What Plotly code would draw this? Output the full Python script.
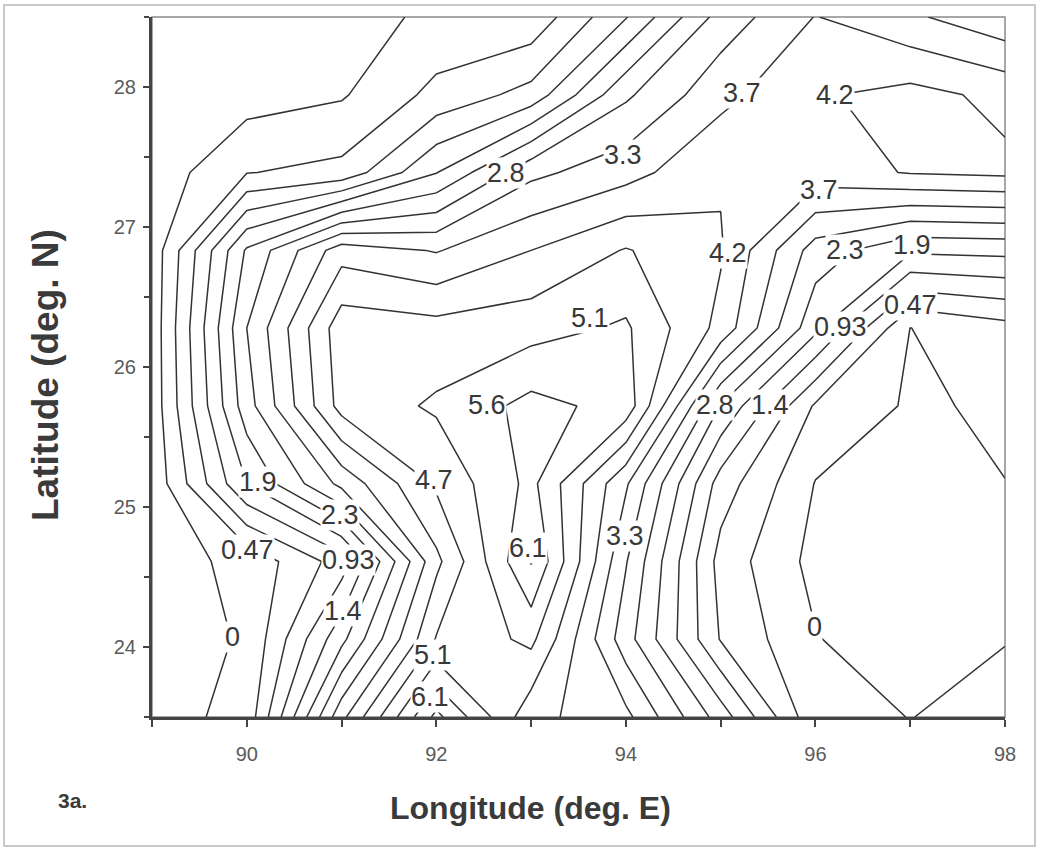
import plotly.graph_objects as go

# grid (longitude in deg E, latitude in deg N)
lon = [89, 90, 91, 92, 93, 94, 95, 96, 97, 98]
lat = [23.50, 24.056, 24.611, 25.167, 25.722, 26.278, 26.833, 27.389, 27.944, 28.50]

# values per latitude row (south -> north)
row_23_50 = [-0.20, 0.15, 3.60, 6.20, 4.35, 3.86, 2.12, 0.10, -0.005, 0.10]
row_24_06 = [-0.20, 0.04, 2.20, 4.70, 5.25, 3.00, 0.90, 0.024, -0.30, -0.01]
row_24_61 = [-0.20, 0.12, 1.15, 4.08, 6.10, 3.30, 0.75, -0.15, -0.20, -0.01]
row_25_17 = [-0.35, 1.87, 3.40, 4.75, 5.73, 3.80, 1.18, -0.02, -0.10, -0.005]
row_25_72 = [-0.30, 2.60, 4.85, 5.20, 5.75, 5.44, 2.30, 0.40, -0.06, 0.067]
row_26_28 = [-0.30, 2.80, 4.95, 4.84, 4.95, 5.20, 4.06, 2.00, -0.005, 0.30]
row_26_83 = [-0.30, 2.40, 4.00, 3.70, 4.20, 4.70, 4.25, 2.58, 1.95, 2.00]
row_27_39 = [-0.30, 0.45, 0.60, 1.85, 3.15, 3.55, 4.15, 4.00, 4.23, 4.30]
row_27_94 = [-0.30, -0.21, -0.05, 0.60, 1.10, 2.72, 3.59, 4.15, 4.35, 4.08]
row_28_50 = [-0.30, -0.30, -0.20, 0.10, 0.13, 1.37, 2.99, 3.75, 3.35, 2.91]

z = [row_23_50, row_24_06, row_24_61, row_25_17, row_25_72,
     row_26_28, row_26_83, row_27_39, row_27_94, row_28_50]

# contour labels as printed on the map
label_text = ["2.8", "3.3", "3.7", "4.2", "3.7", "4.2", "2.3", "1.9", "0.47", "0.93",
              "5.1", "5.6", "2.8", "1.4", "1.9", "4.7", "2.3", "0.47", "0.93", "6.1",
              "3.3", "1.4", "0", "0", "5.1", "6.1"]
label_lon = [92.74, 93.97, 95.23, 96.21, 96.04, 95.08, 96.31, 97.02, 97.00, 96.26,
             93.62, 92.53, 94.94, 95.52, 90.12, 91.98, 90.98, 90.01, 91.07, 92.97,
             93.99, 91.01, 89.85, 95.99, 91.96, 91.93]
label_lat = [27.386, 27.514, 27.957, 27.943, 27.264, 26.814, 26.836, 26.871, 26.443, 26.286,
             26.35, 25.73, 25.73, 25.73, 25.18, 25.19, 24.94, 24.69, 24.62, 24.71,
             24.79, 24.26, 24.07, 24.14, 23.94, 23.64]

FONT = "Liberation Sans, Arial, sans-serif"

fig = go.Figure()
fig.add_trace(go.Contour(
    x=lon, y=lat, z=z,
    autocontour=False,
    contours=dict(start=0, end=6.6, size=7/15, coloring="none", showlabels=False),
    line=dict(color="#333333", width=1.5, smoothing=0),
    showscale=False, hoverinfo="skip",
))

annotations = []
for t, x, y in zip(label_text, label_lon, label_lat):
    annotations.append(dict(x=x, y=y, xref="x", yref="y", text=t, showarrow=False,
                            xanchor="center", yanchor="middle",
                            font=dict(family=FONT, size=27, color="#383838"),
                            bgcolor="white", borderpad=0))

annotations += [
    dict(x=(45 - 152) / 853, y=(717 - 375) / 700, xref="paper", yref="paper",
         xanchor="center", yanchor="middle",
         text="<b>Latitude (deg. N)</b>", textangle=-90, showarrow=False,
         font=dict(family=FONT, size=37, color="#3a3a3a")),
    dict(x=(530 - 152) / 853, y=(717 - 808) / 700, xref="paper", yref="paper",
         xanchor="center", yanchor="middle",
         text="<b>Longitude (deg. E)</b>", showarrow=False,
         font=dict(family=FONT, size=32, color="#3a3a3a")),
    dict(x=(72 - 152) / 853, y=(717 - 800) / 700, xref="paper", yref="paper",
         xanchor="center", yanchor="middle",
         text="<b>3a.</b>", showarrow=False,
         font=dict(family=FONT, size=21, color="#3a3a3a")),
]

shapes = [
    dict(type="rect", xref="x domain", yref="y domain", x0=0, x1=1, y0=0, y1=1,
         line=dict(color="#8a8a8a", width=1.5), layer="below"),
    dict(type="rect", xref="paper", yref="paper",
         x0=(4 - 152) / 853, x1=(1035 - 152) / 853, y0=(717 - 846) / 700, y1=(717 - 5) / 700,
         line=dict(color="#c8c8c8", width=2), layer="below"),
]

fig.update_layout(
    width=1043, height=851,
    margin=dict(l=152, r=38, t=17, b=134),
    paper_bgcolor="white", plot_bgcolor="white",
    showlegend=False,
    annotations=annotations, shapes=shapes,
    xaxis=dict(range=[89, 98], tick0=90, dtick=2, ticks="outside", ticklen=7, tickwidth=1.5,
               tickcolor="#444", showline=True, linewidth=3, linecolor="#444",
               showgrid=False, zeroline=False, ticklabelstandoff=10,
               tickfont=dict(family=FONT, size=20, color="#5a5a5a"),
               minor=dict(dtick=1, ticks="outside", ticklen=7, tickwidth=1.5, tickcolor="#444", showgrid=False)),
    yaxis=dict(range=[23.5, 28.5], tick0=24, dtick=1, ticks="outside", ticklen=6, tickwidth=1.5,
               tickcolor="#444", showline=True, linewidth=3, linecolor="#444",
               showgrid=False, zeroline=False, ticklabelstandoff=3,
               tickfont=dict(family=FONT, size=20, color="#5a5a5a"),
               minor=dict(dtick=0.5, ticks="outside", ticklen=5, tickwidth=1.5, tickcolor="#444", showgrid=False)),
)

fig.write_html("out.html")
